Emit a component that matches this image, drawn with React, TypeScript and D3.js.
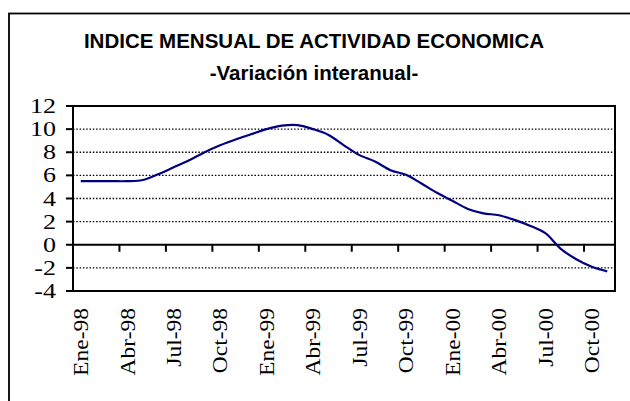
import { useEffect, useRef } from 'react'
import * as d3 from 'd3'

const months = [
  'Ene-98', 'Feb-98', 'Mar-98', 'Abr-98', 'May-98', 'Jun-98', 'Jul-98', 'Ago-98', 'Sep-98', 'Oct-98', 'Nov-98', 'Dic-98',
  'Ene-99', 'Feb-99', 'Mar-99', 'Abr-99', 'May-99', 'Jun-99', 'Jul-99', 'Ago-99', 'Sep-99', 'Oct-99', 'Nov-99', 'Dic-99',
  'Ene-00', 'Feb-00', 'Mar-00', 'Abr-00', 'May-00', 'Jun-00', 'Jul-00', 'Ago-00', 'Sep-00', 'Oct-00', 'Nov-00',
]

const variacion = [
  5.5, 5.5, 5.5, 5.5, 5.6, 6.1, 6.7, 7.3, 8.0, 8.6, 9.1, 9.55,
  10.0, 10.3, 10.35, 10.0, 9.5, 8.6, 7.75, 7.2, 6.45, 6.05, 5.3, 4.5,
  3.8, 3.1, 2.72, 2.55, 2.15, 1.65, 1.0, -0.35, -1.25, -1.9, -2.3,
]

const yTicks = [12, 10, 8, 6, 4, 2, 0, -2, -4]
const gridValues = [10, 8, 6, 4, 2, -2]
const xLabels = ['Ene-98', 'Abr-98', 'Jul-98', 'Oct-98', 'Ene-99', 'Abr-99', 'Jul-99', 'Oct-99', 'Ene-00', 'Abr-00', 'Jul-00', 'Oct-00']
const xTickBoundaries = ['Abr-98', 'Jul-98', 'Oct-98', 'Ene-99', 'Abr-99', 'Jul-99', 'Oct-99', 'Ene-00', 'Abr-00', 'Jul-00', 'Oct-00']

const title = 'INDICE MENSUAL DE ACTIVIDAD ECONOMICA'
const subtitle = '-Variación interanual-'

export default function App() {
  const ref = useRef<SVGSVGElement>(null)

  useEffect(() => {
    if (!ref.current) return
    const width = 630
    const height = 401
    const plot = { left: 73, right: 615, top: 106, bottom: 291 }
    const serif = '"Liberation Serif", "Times New Roman", serif'
    const sans = '"Liberation Sans", Arial, sans-serif'

    const svg = d3.select(ref.current)
    svg.selectAll('*').remove()
    svg.attr('width', width).attr('height', height)

    svg.append('rect').attr('width', width).attr('height', height).attr('fill', '#fff')
    // outer frame, cut off at right and bottom like the source
    svg
      .append('rect')
      .attr('x', 9)
      .attr('y', 13.5)
      .attr('width', width + 20)
      .attr('height', height + 20)
      .attr('fill', 'none')
      .attr('stroke', '#000')
      .attr('stroke-width', 1.8)

    svg
      .append('text')
      .attr('x', 314)
      .attr('y', 48)
      .attr('text-anchor', 'middle')
      .style('font-family', sans)
      .style('font-weight', 'bold')
      .style('font-size', '20.5px')
      .text(title)
    svg
      .append('text')
      .attr('x', 314)
      .attr('y', 80)
      .attr('text-anchor', 'middle')
      .style('font-family', sans)
      .style('font-weight', 'bold')
      .style('font-size', '20.5px')
      .text(subtitle)

    const x = d3.scaleBand().domain(months).range([plot.left, plot.right]).padding(0)
    const y = d3.scaleLinear().domain([-4, 12]).range([plot.bottom, plot.top])
    const cx = (m: string) => (x(m) || 0) + x.bandwidth() / 2

    // dotted gridlines
    svg
      .append('g')
      .selectAll('line')
      .data(gridValues)
      .join('line')
      .attr('x1', plot.left)
      .attr('x2', plot.right)
      .attr('y1', (d) => y(d))
      .attr('y2', (d) => y(d))
      .attr('stroke', '#000')
      .attr('stroke-width', 1.4)
      .attr('stroke-dasharray', '1.5 1.8')

    // plot border
    svg
      .append('rect')
      .attr('x', plot.left)
      .attr('y', plot.top)
      .attr('width', plot.right - plot.left)
      .attr('height', plot.bottom - plot.top)
      .attr('fill', 'none')
      .attr('stroke', '#000')
      .attr('stroke-width', 2)

    // y axis ticks + labels
    const yAxis = svg.append('g')
    yAxis
      .selectAll('line')
      .data(yTicks)
      .join('line')
      .attr('x1', plot.left - 7)
      .attr('x2', plot.left)
      .attr('y1', (d) => y(d))
      .attr('y2', (d) => y(d))
      .attr('stroke', '#000')
      .attr('stroke-width', 2)
    yAxis
      .selectAll('text')
      .data(yTicks)
      .join('text')
      .attr('transform', (d) => `translate(56,${y(d)}) scale(1.3,1)`)
      .attr('dy', '0.35em')
      .attr('text-anchor', 'end')
      .style('font-family', serif)
      .style('font-size', '20px')
      .text((d) => d)

    // category axis at zero
    svg
      .append('line')
      .attr('x1', plot.left)
      .attr('x2', plot.right)
      .attr('y1', y(0))
      .attr('y2', y(0))
      .attr('stroke', '#000')
      .attr('stroke-width', 2)
    svg
      .append('g')
      .selectAll('line')
      .data(xTickBoundaries)
      .join('line')
      .attr('x1', (d) => x(d) || 0)
      .attr('x2', (d) => x(d) || 0)
      .attr('y1', y(0))
      .attr('y2', y(0) + 7)
      .attr('stroke', '#000')
      .attr('stroke-width', 2)

    svg
      .append('g')
      .selectAll('text')
      .data(xLabels)
      .join('text')
      .attr('transform', (d) => `translate(${cx(d)},${plot.bottom + 17}) rotate(-90) scale(1.12,1)`)
      .attr('dy', '0.35em')
      .attr('text-anchor', 'end')
      .style('font-family', serif)
      .style('font-size', '21px')
      .text((d) => d)

    const line = d3
      .line<number>()
      .x((_, i) => cx(months[i]))
      .y((d) => y(d))
      .curve(d3.curveCatmullRom.alpha(0.5))

    svg
      .append('path')
      .datum(variacion)
      .attr('d', line)
      .attr('fill', 'none')
      .attr('stroke', '#000080')
      .attr('stroke-width', 2.2)
  }, [])

  return <svg ref={ref} style={{ position: 'absolute', left: 0, top: 0, display: 'block' }} />
}
